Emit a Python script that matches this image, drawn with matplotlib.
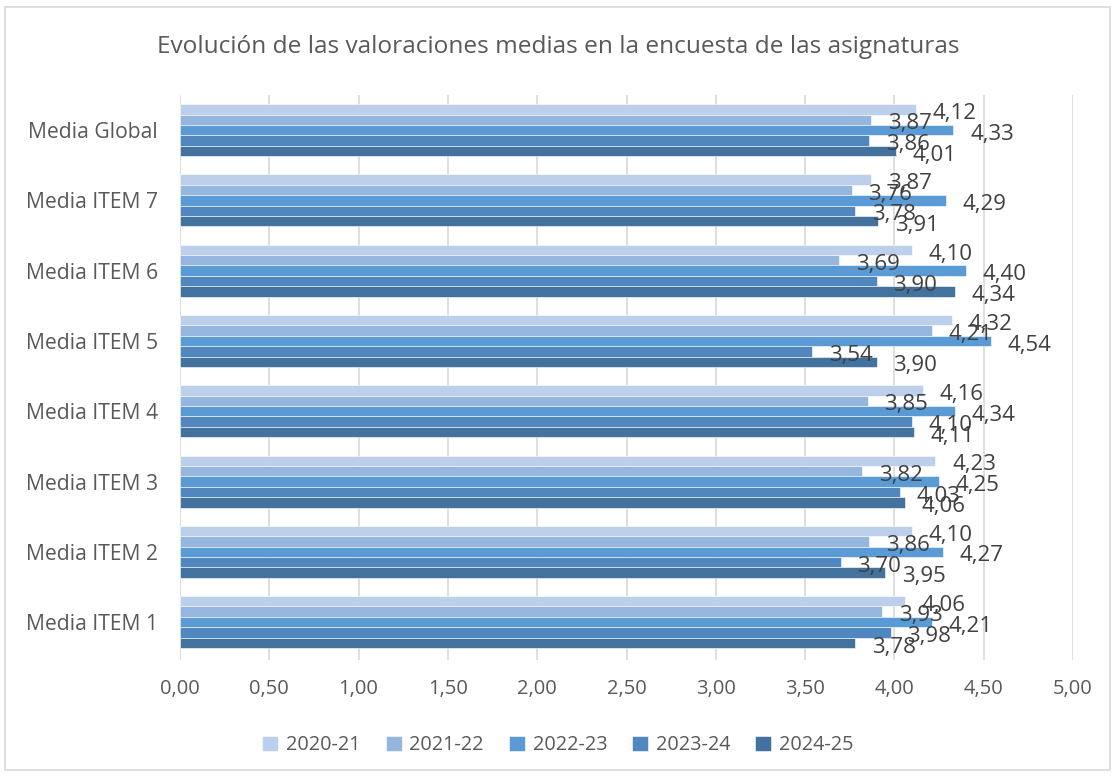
import matplotlib
matplotlib.use("Agg")
import matplotlib.pyplot as plt
import numpy as np
from matplotlib.patches import Rectangle

categories = ["Media ITEM 1", "Media ITEM 2", "Media ITEM 3", "Media ITEM 4",
              "Media ITEM 5", "Media ITEM 6", "Media ITEM 7", "Media Global"]
series_names = ["2020-21", "2021-22", "2022-23", "2023-24", "2024-25"]
v2020_21 = [4.06, 4.10, 4.23, 4.16, 4.32, 4.10, 3.87, 4.12]
v2021_22 = [3.93, 3.86, 3.82, 3.85, 4.21, 3.69, 3.76, 3.87]
v2022_23 = [4.21, 4.27, 4.25, 4.34, 4.54, 4.40, 4.29, 4.33]
v2023_24 = [3.98, 3.70, 4.03, 4.10, 3.54, 3.90, 3.78, 3.86]
v2024_25 = [3.78, 3.95, 4.06, 4.11, 3.90, 4.34, 3.91, 4.01]
series_values = [v2020_21, v2021_22, v2022_23, v2023_24, v2024_25]
xticks = [0, 0.5, 1, 1.5, 2, 2.5, 3, 3.5, 4, 4.5, 5]
colors = ["#BCD0EB", "#95B6DF", "#5B9BD5", "#4F87BE", "#43729F"]
text_color = "#595959"

plt.rcParams['font.family'] = ['Open Sans', 'DejaVu Sans']

fig = plt.figure(figsize=(11.16, 7.76), dpi=100)
ax = fig.add_axes([180/1116, 1 - 660/776, (1073-180)/1116, (660-95)/776])

bh = 0.148
y = np.arange(len(categories))
for i, (name, vals, c) in enumerate(zip(series_names, series_values, colors)):
    offs = (2 - i) * bh
    ax.barh(y + offs, vals, height=bh, color=c, edgecolor="white", linewidth=0.4,
            label=name, zorder=3)
    for yy, v in zip(y + offs, vals):
        ax.annotate(f"{v:.2f}".replace(".", ","), (v, yy), xytext=(12, -3),
                    textcoords="offset points", ha="left", va="center",
                    fontsize=16, color="#404040", zorder=4)

ax.set_xlim(0, 5)
ax.set_ylim(-0.5 - 0.04, len(categories) - 0.5)
ax.set_xticks(xticks)
ax.set_xticklabels([f"{t:.2f}".replace(".", ",") for t in xticks])
ax.set_yticks(y)
ax.set_yticklabels(categories)
ax.tick_params(axis="x", length=0, labelsize=14.5, colors=text_color, pad=14)
ax.tick_params(axis="y", length=0, labelsize=15.2, colors=text_color, pad=16)
ax.grid(axis="x", color="#D9D9D9", linewidth=1.2, zorder=0)
for s in ax.spines.values():
    s.set_visible(False)

fig.text(0.5, 1 - 47/776, "Evolución de las valoraciones medias en la encuesta de las asignaturas",
         ha="center", va="center", fontsize=17.6, color=text_color)

handles, labels = ax.get_legend_handles_labels()
fig.legend(handles, labels, loc="center", bbox_to_anchor=(0.5, 1 - 745/776), ncol=5,
           frameon=False, fontsize=14.3, labelcolor=text_color, handlelength=0.8,
           handleheight=0.8, columnspacing=1.25, handletextpad=0.4)

fig.patches.append(Rectangle((5/1116, 6/776), 1 - 11/1116, 1 - 13/776, transform=fig.transFigure,
                             fill=False, edgecolor="#D9D9D9", linewidth=1.2))

fig.savefig("out.png", dpi=100, facecolor="white")
